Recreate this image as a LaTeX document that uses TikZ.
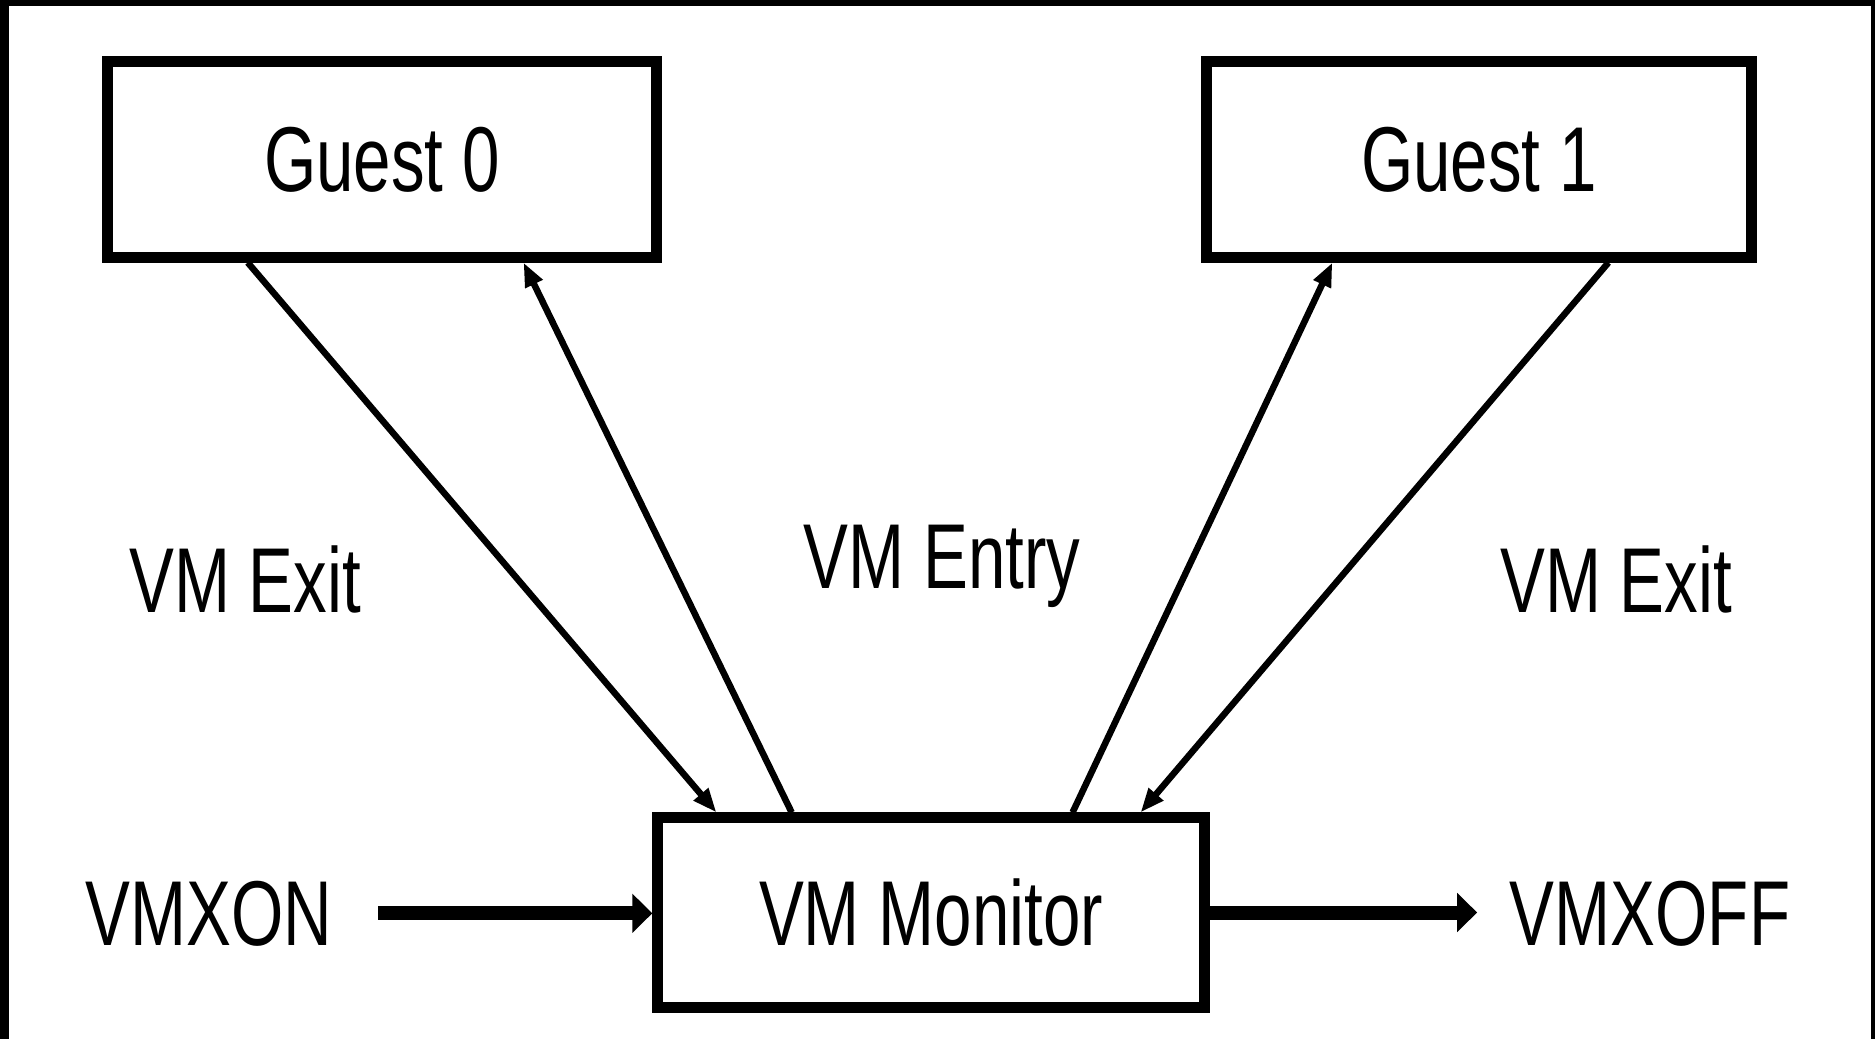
\documentclass[tikz,border=0pt]{standalone}
\usepackage{fontspec}
\setmainfont{Liberation Sans}[FakeStretch=0.73]
\usetikzlibrary{arrows.meta,calc}

\tikzset{
  label text/.style={inner sep=0pt, anchor=base, font=\fontsize{26.2pt}{30pt}\selectfont},
  vmbox/.style={draw, line width=0.11cm, inner sep=0pt, minimum height=1.95cm,
                font=\fontsize{26.2pt}{30pt}\selectfont},
  transition/.style={line width=0.065cm, -{Triangle[length=0.24cm, width=0.18cm]}},
  onoff/.style={line width=0.14cm, -{Triangle[length=0.2cm, width=0.38cm]}},
  frame/.style={fill=black, draw=none}
}

\begin{document}
\begin{tikzpicture}[x=0.01cm, y=-0.01cm]
  \useasboundingbox (0,0) rectangle (1875,1039);
  \fill[white] (0,0) rectangle (1875,1039);

  % dark frame on the left, top and right edges
  \path[frame] (0,0) rectangle (9,1039);
  \path[frame] (0,0) rectangle (1875,6);
  \path[frame] (1871,0) rectangle (1875,1039);

  % the three boxes
  \node[vmbox, minimum width=5.48cm] (g0) at (382,159.5) {Guest 0};
  \node[vmbox, minimum width=5.44cm] (g1) at (1479,159.5) {Guest 1};
  \node[vmbox, minimum width=5.46cm, minimum height=1.89cm] (mon) at (931,912.5) {VM Monitor};

  % free-standing labels
  \node[label text] (exit0)  at (245,612) {VM Exit};
  \node[label text] (entry)  at (942,588) {VM Entry};
  \node[label text] (exit1)  at (1616,612) {VM Exit};
  \node[label text] (vmxon)  at (209,945) {VMXON};
  \node[label text] (vmxoff) at (1650,945) {VMXOFF};

  % exits from the guests into the monitor, entries back into the guests
  \draw[transition] ($(g0.south west)!0.26!(g0.south east)$)
                 -- ($(mon.north west)!0.115!(mon.north east)$);
  \draw[transition] ($(mon.north west)!0.25!(mon.north east)$)
                 -- ($(g0.south west)!0.753!(g0.south east)$);
  \draw[transition] ($(mon.north west)!0.754!(mon.north east)$)
                 -- ($(g1.south west)!0.236!(g1.south east)$);
  \draw[transition] ($(g1.south west)!0.733!(g1.south east)$)
                 -- ($(mon.north west)!0.876!(mon.north east)$);

  % turning VMX operation on and off
  \draw[onoff, shorten <=0.45cm] (vmxon.east) -- (vmxon.east -| mon.west);
  \draw[onoff, shorten >=0.32cm] (mon.east) -- (mon.east -| vmxoff.west);
\end{tikzpicture}
\end{document}
